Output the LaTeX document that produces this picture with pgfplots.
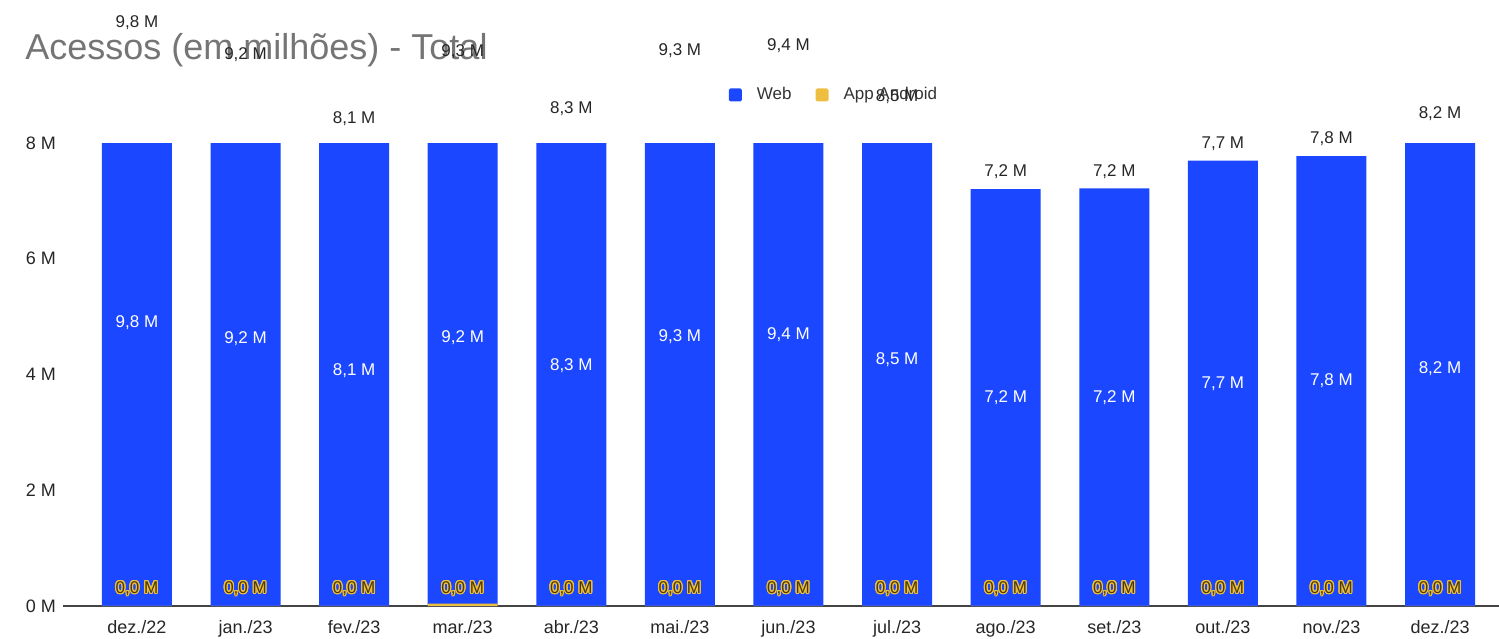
\documentclass[border=0pt]{standalone}
\usepackage{pgfplots}
\pgfplotsset{compat=1.18}
\usepackage{pgfplotstable}
\usepackage{fontspec}
\setmainfont{Liberation Sans}
\usepackage[copies]{contour}
\contourlength{0.6pt}
\definecolor{webblue}{HTML}{1A47FF}
\definecolor{appyellow}{HTML}{EDBE3F}
\definecolor{labelbrown}{HTML}{4A3A05}
\definecolor{titlegray}{HTML}{757575}
\definecolor{axisgray}{HTML}{444444}
\pgfkeys{/pgf/number format/assume math mode=true}
\pgfplotstableread{
x web app
0 9.78 0.004
1 9.23 0.004
2 8.12 0.004
3 9.24 0.040
4 8.30 0.004
5 9.30 0.004
6 9.38 0.004
7 8.50 0.004
8 7.20 0.004
9 7.21 0.004
10 7.69 0.004
11 7.77 0.004
12 8.20 0.004
}\datatable
\pgfplotsset{
  sqlegend/.style={legend image code/.code={\fill[##1, rounded corners=0.8pt] (0pt,-3.25pt) rectangle (6.5pt,3.25pt);}},
  sameframe/.style={at={(0pt,0pt)}, anchor=south west, scale only axis,
    width=718pt, height=231.5pt,
    xmin=-0.681, xmax=12.543, ymin=0, ymax=8},
}
\newcommand{\valM}[1]{\pgfmathprintnumber[fixed,fixed zerofill,precision=1,use comma]{#1} M}
\begin{document}
\begin{tikzpicture}
\node[anchor=base west, inner sep=0pt, text=titlegray, font=\fontsize{18}{21}\selectfont] at (-19pt,273pt) {Acessos (em milhões) - Total};
\begin{axis}[
  sameframe,
  axis lines*=left,
  x axis line style={draw=axisgray, line width=0.7pt, -},
  y axis line style={draw=none},
  xtick style={draw=none}, ytick style={draw=none},
  ytick={0,2,4,6,8},
  yticklabel={\pgfmathprintnumber{\tick} M},
  xtick={0,...,12},
  xticklabels={dez./22,jan./23,fev./23,mar./23,abr./23,mai./23,jun./23,jul./23,ago./23,set./23,out./23,nov./23,dez./23},
  tick label style={font=\fontsize{9}{10}\selectfont, text=black!85},
  xticklabel style={yshift=-3.5pt},
  legend columns=2,
  legend style={at={(rel axis cs:0.5376,1.1037)}, anchor=center, draw=none, fill=none,
    font=\fontsize{8.5}{10}\selectfont, text=black!80,
    /tikz/every odd column/.append style={column sep=5.5pt},
    /tikz/every even column/.append style={column sep=10pt}},
]
\addplot[ybar, bar width=35pt, bar shift=0pt, fill=webblue, draw=none, sqlegend]
  table[x=x, y expr=\thisrow{web}+\thisrow{app}] {\datatable};
\addlegendentry{Web}
\addplot[ybar, bar width=35pt, bar shift=0pt, fill=appyellow, draw=none, sqlegend]
  table[x=x, y=app] {\datatable};
\addlegendentry{App Android}
\end{axis}
\begin{axis}[
  sameframe, clip=false, hide axis,
]
% web labels inside bars
\addplot[draw=none, mark=none, point meta=\thisrow{web},
  nodes near coords={\valM{\pgfplotspointmeta}},
  nodes near coords style={anchor=center, text=white, font=\fontsize{8.5}{10}\selectfont}]
  table[x=x, y expr=(\thisrow{web}+\thisrow{app})/2] {\datatable};
% app labels
\addplot[draw=none, mark=none, point meta=\thisrow{app},
  nodes near coords={\contour{appyellow}{\valM{\pgfplotspointmeta}}},
  nodes near coords style={anchor=center, text=labelbrown, yshift=8.5pt, font=\fontsize{8.5}{10}\selectfont}]
  table[x=x, y expr=0] {\datatable};
% total labels
\addplot[draw=none, mark=none, point meta={\thisrow{web}+\thisrow{app}},
  nodes near coords={\valM{\pgfplotspointmeta}},
  nodes near coords style={anchor=south, text=black!85, yshift=1.5pt, font=\fontsize{8.5}{10}\selectfont}]
  table[x=x, y expr=\thisrow{web}+\thisrow{app}] {\datatable};
\end{axis}
\pgfresetboundingbox
\path[use as bounding box] (-31.5pt,-16pt) rectangle (718pt,303pt);
\end{tikzpicture}
\end{document}
